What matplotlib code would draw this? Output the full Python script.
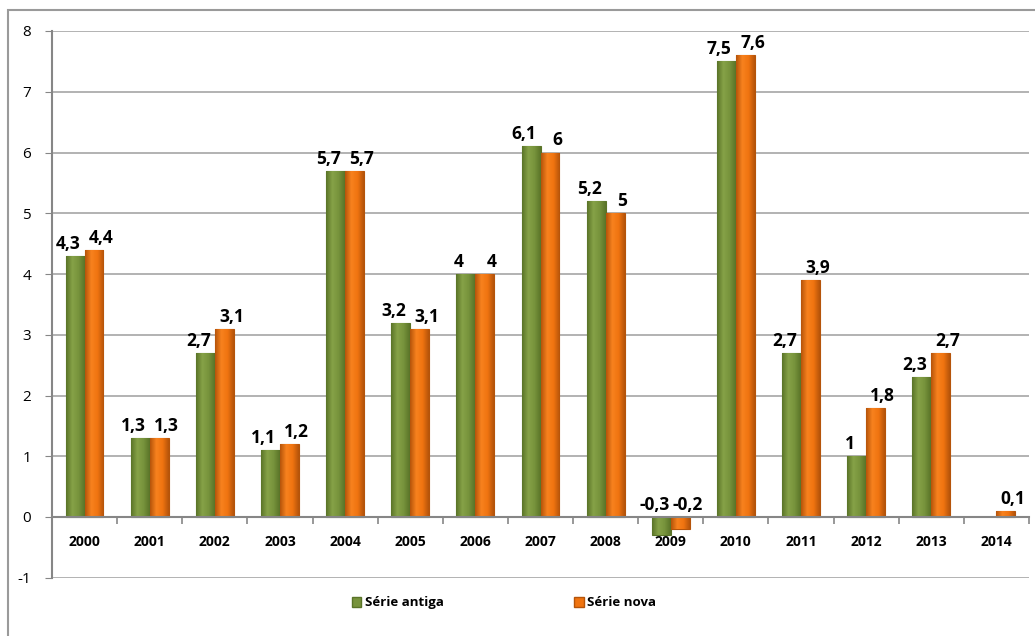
import numpy as np
import matplotlib
matplotlib.use('Agg')
import matplotlib.pyplot as plt
from matplotlib.patches import Rectangle
from matplotlib.colors import LinearSegmentedColormap

years = ['2000', '2001', '2002', '2003', '2004', '2005', '2006', '2007',
         '2008', '2009', '2010', '2011', '2012', '2013', '2014']
serie_antiga = [4.3, 1.3, 2.7, 1.1, 5.7, 3.2, 4, 6.1, 5.2, -0.3, 7.5, 2.7, 1, 2.3, None]
serie_nova = [4.4, 1.3, 3.1, 1.2, 5.7, 3.1, 4, 6, 5, -0.2, 7.6, 3.9, 1.8, 2.7, 0.1]

green = '#77933C'
green_edge = '#5A7428'
orange = '#F07410'
orange_edge = '#B5540A'

plt.rcParams['font.family'] = ['Open Sans', 'DejaVu Sans']

fig = plt.figure(figsize=(10.35, 6.36), dpi=100)
ax = fig.add_axes([52 / 1035, 58.25 / 636, 977 / 1035, 546.75 / 636])

# chart border (runs off the right and bottom edges)
fig.patches.append(Rectangle((8 / 1035, -20 / 636), 1040 / 1035, 646 / 636,
                             transform=fig.transFigure, fill=False,
                             edgecolor='#9A9A9A', linewidth=1.5))

x = np.arange(len(years))
w = 0.29
off = 0.11

cm_green = LinearSegmentedColormap.from_list('g', [green_edge, '#86A247', green, green_edge])
cm_orange = LinearSegmentedColormap.from_list('o', [orange_edge, '#F8821E', orange, orange_edge])
grad = np.linspace(0, 1, 64).reshape(1, -1)


def fmt(v):
    s = ('%.1f' % v).rstrip('0').rstrip('.')
    return s.replace('.', ',')


def shaded_bar(xc, val, color, edge, cmap):
    bars = ax.bar(xc, val, w, color=color, edgecolor=edge, linewidth=0.8, zorder=3)
    p = bars[0]
    x0, y0 = p.get_x(), p.get_y()
    im = ax.imshow(grad, cmap=cmap, aspect='auto', zorder=3.5,
                   extent=[x0, x0 + p.get_width(), y0, y0 + p.get_height()])
    im.set_clip_path(p)


for i in range(len(years)):
    a = serie_antiga[i]
    n = serie_nova[i]
    if a is not None:
        shaded_bar(x[i] - w / 2, a, green, green_edge, cm_green)
        ax.text(x[i] - w / 2 - off, max(a, 0) + 0.05, fmt(a), ha='center', va='bottom',
                fontsize=12.5, fontweight='bold', zorder=4)
    if n is not None:
        shaded_bar(x[i] + w / 2, n, orange, orange_edge, cm_orange)
        ax.text(x[i] + w / 2 + off, max(n, 0) + 0.05, fmt(n), ha='center', va='bottom',
                fontsize=12.5, fontweight='bold', zorder=4)

ax.set_xlim(-0.5, len(years) - 0.5)
ax.set_ylim(-1, 8)
ax.set_yticks(range(-1, 9))
ax.set_yticklabels([str(v) for v in range(-1, 9)], fontsize=11)
ax.yaxis.grid(True, color='#A6A6A6', linewidth=1.2, zorder=0)
ax.tick_params(axis='y', length=5, color='#868686', pad=10)

ax.spines['top'].set_visible(False)
ax.spines['right'].set_visible(False)
ax.spines['left'].set_color('#868686')
ax.spines['left'].set_linewidth(1.5)
ax.spines['bottom'].set_position(('data', 0))
ax.spines['bottom'].set_color('#868686')
ax.spines['bottom'].set_linewidth(1.5)
ax.spines['bottom'].set_zorder(5)

ax.set_xticks(x)
ax.set_xticklabels(years, fontsize=10, fontweight='bold')
ax.set_xticks(np.arange(-0.5, len(years)), minor=True)
ax.tick_params(axis='x', which='major', length=0, pad=13)
ax.tick_params(axis='x', which='minor', length=5, width=1.2, color='#868686')

h1 = Rectangle((0, 0), 1, 1, facecolor=green, edgecolor=green_edge)
h2 = Rectangle((0, 0), 1, 1, facecolor=orange, edgecolor=orange_edge)
fig.legend([h1, h2], ['Série antiga', 'Série nova'], loc='center',
           bbox_to_anchor=(0.487, 0.052), ncol=2, frameon=False,
           prop={'weight': 'bold', 'size': 9.5}, columnspacing=9.8,
           handlelength=0.75, handleheight=0.75, handletextpad=0.3)

fig.savefig('out.png', dpi=100)
